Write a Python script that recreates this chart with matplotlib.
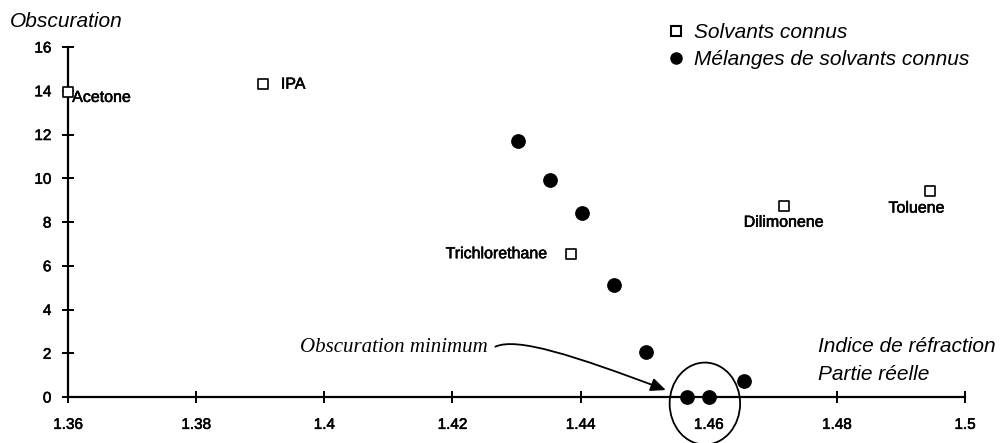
import matplotlib
matplotlib.use("Agg")
import matplotlib.pyplot as plt
import matplotlib.patheffects as pe
from matplotlib.patches import Ellipse, FancyArrowPatch
from matplotlib.path import Path
from matplotlib.lines import Line2D

plt.rcParams['font.family'] = ['Liberation Sans', 'DejaVu Sans']

# Known solvents (squares)
solvent_names = ["Acetone", "IPA", "Trichlorethane", "Dilimonene", "Toluene"]
solvent_x = [1.360, 1.3904, 1.4385, 1.4717, 1.4946]
solvent_y = [13.95, 14.3, 6.55, 8.75, 9.4]

# Mixtures of known solvents (dots)
mix_x = [1.4302, 1.4352, 1.4402, 1.4452, 1.4502, 1.4566, 1.4601, 1.4655]
mix_y = [11.7, 9.9, 8.43, 5.1, 2.05, 0.0, 0.0, 0.73]

x_ticks = [1.36, 1.38, 1.40, 1.42, 1.44, 1.46, 1.48, 1.50]
x_tick_labels = ["1.36", "1.38", "1.4", "1.42", "1.44", "1.46", "1.48", "1.5"]
y_ticks = [0, 2, 4, 6, 8, 10, 12, 14, 16]

heavy = [pe.withStroke(linewidth=0.4, foreground='black')]

fig = plt.figure(figsize=(10.05, 4.43), dpi=100)
ax = fig.add_axes([0.0677, 0.1038, 0.8925, 0.7901])
ax.set_xlim(1.36, 1.50)
ax.set_ylim(0, 16)

for s in ["top", "right"]:
    ax.spines[s].set_visible(False)
for s in ["left", "bottom"]:
    ax.spines[s].set_linewidth(1.6)

ax.set_xticks(x_ticks)
ax.set_xticklabels(x_tick_labels)
ax.set_yticks(y_ticks)
ax.tick_params(axis='both', direction='inout', length=8, width=1.4,
               labelsize=11, colors='black')
ax.tick_params(axis='x', pad=11)
ax.tick_params(axis='y', pad=8)
for lab in ax.get_xticklabels() + ax.get_yticklabels():
    lab.set_path_effects(heavy)

ax.scatter(solvent_x, solvent_y, marker='s', s=62, facecolors='white',
           edgecolors='black', linewidths=1.2, zorder=3, clip_on=False)
ax.scatter(mix_x, mix_y, marker='o', s=92, color='black', zorder=4,
           clip_on=False)

# solvent labels
lab_kw = dict(fontsize=11.5, color='black', path_effects=heavy)
ax.annotate(solvent_names[0], (solvent_x[0], solvent_y[0]), xytext=(3, -4),
            textcoords='offset points', ha='left', va='center', **lab_kw)
ax.annotate(solvent_names[1], (solvent_x[1], solvent_y[1]), xytext=(13, 0),
            textcoords='offset points', ha='left', va='center', **lab_kw)
ax.annotate(solvent_names[2], (solvent_x[2], solvent_y[2]), xytext=(-17, 0),
            textcoords='offset points', ha='right', va='center', **lab_kw)
ax.annotate(solvent_names[3], (solvent_x[3], solvent_y[3]), xytext=(0, -12),
            textcoords='offset points', ha='center', va='center', **lab_kw)
ax.annotate(solvent_names[4], (solvent_x[4], solvent_y[4]), xytext=(-10, -12),
            textcoords='offset points', ha='center', va='center', **lab_kw)

# circle around the minimum
ell = Ellipse((1.4594, -0.3), width=0.0110, height=3.75, fill=False,
              edgecolor='black', linewidth=1.3, clip_on=False, zorder=5)
ax.add_patch(ell)

# annotation text and curved arrow
ax.text(1.4255, 2.25, "Obscuration minimum", family='Liberation Serif',
        style='italic', fontsize=15, ha='right', va='center')
verts = [(1.4267, 2.3), (1.4300, 2.75), (1.4390, 1.9), (1.4533, 0.32)]
codes = [Path.MOVETO, Path.CURVE4, Path.CURVE4, Path.CURVE4]
arrow = FancyArrowPatch(path=Path(verts, codes),
                        arrowstyle='-|>,head_length=9,head_width=4',
                        color='black', linewidth=1.3, clip_on=False, zorder=5)
ax.add_patch(arrow)

# axis titles
fig.text(0.010, 0.939, "Obscuration", style='italic', fontsize=15,
         ha='left', va='baseline')
fig.text(0.814, 0.2054, "Indice de réfraction", style='italic', fontsize=15,
         ha='left', va='baseline')
fig.text(0.814, 0.142, "Partie réelle", style='italic', fontsize=15,
         ha='left', va='baseline')

# legend
handles = [Line2D([], [], marker='s', linestyle='none', markersize=7.5,
                  markerfacecolor='white', markeredgecolor='black', markeredgewidth=1.5),
           Line2D([], [], marker='o', linestyle='none', markersize=8,
                  markerfacecolor='black', markeredgecolor='black')]
fig.legend(handles, ["Solvants connus", "Mélanges de solvants connus"],
           loc='upper left', bbox_to_anchor=(0.652, 0.966), frameon=False,
           prop={'style': 'italic', 'size': 15}, handletextpad=0.25,
           handlelength=1.2, labelspacing=0.38, borderaxespad=0)

fig.savefig("out.png", dpi=100)
